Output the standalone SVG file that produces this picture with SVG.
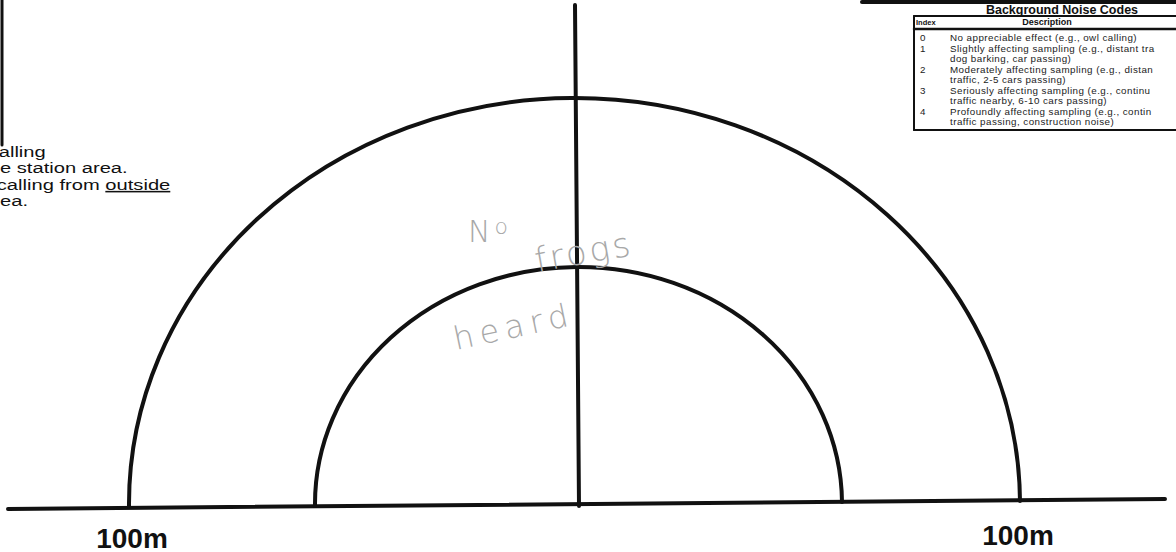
<svg xmlns="http://www.w3.org/2000/svg" width="1176" height="552" viewBox="0 0 1176 552">
<style>
.ln{stroke:#111;fill:none;stroke-linecap:round}
.lab{font-family:"Liberation Sans",Arial,sans-serif;fill:#111}
.tb{font-family:"Liberation Sans",Arial,sans-serif;font-size:9.8px;letter-spacing:0.45px;fill:#222}
.hw{font-family:"DejaVu Sans",sans-serif;fill:#a8a8a8;font-weight:200}
</style>
<rect width="1176" height="552" fill="#fff"/>
<g id="left-note">
<line class="ln" x1="2" y1="0" x2="2" y2="145" stroke-width="3"/>
<g transform="scale(1.3,1)">
<text class="lab" font-size="15.5" x="-1" y="157">alling</text>
<text class="lab" font-size="15.5" x="0" y="173.5">e station area.</text>
<text class="lab" font-size="15.5" x="-2.5" y="190">calling from <tspan text-decoration="underline">outside</tspan></text>
<text class="lab" font-size="15.5" x="0" y="206.5">ea.</text>
</g>
</g>
<g id="noise-table">
<line class="ln" x1="862" y1="2" x2="1176" y2="2" stroke-width="4"/>
<text class="lab" font-size="12.5" font-weight="bold" x="1062" y="14" text-anchor="middle">Background Noise Codes</text>
<line class="ln" x1="914" y1="16" x2="1176" y2="16" stroke-width="2"/>
<line class="ln" x1="914" y1="16" x2="914" y2="130" stroke-width="2"/>
<line class="ln" x1="914" y1="29" x2="1176" y2="29" stroke-width="2.5"/>
<line class="ln" x1="914" y1="130" x2="1176" y2="130" stroke-width="2"/>
<text class="lab" font-size="7.5" font-weight="bold" x="916" y="25">Index</text>
<text class="lab" font-size="9" font-weight="bold" x="1047" y="25" text-anchor="middle">Description</text>
<text class="tb" x="920" y="41">0</text><text class="tb" x="950" y="41">No appreciable effect (e.g., owl calling)</text>
<text class="tb" x="920" y="52">1</text><text class="tb" x="950" y="52">Slightly affecting sampling (e.g., distant tra</text>
<text class="tb" x="950" y="62">dog barking, car passing)</text>
<text class="tb" x="920" y="73">2</text><text class="tb" x="950" y="73">Moderately affecting sampling (e.g., distan</text>
<text class="tb" x="950" y="83">traffic, 2-5 cars passing)</text>
<text class="tb" x="920" y="94">3</text><text class="tb" x="950" y="94">Seriously affecting sampling (e.g., continu</text>
<text class="tb" x="950" y="104">traffic nearby, 6-10 cars passing)</text>
<text class="tb" x="920" y="115">4</text><text class="tb" x="950" y="115">Profoundly affecting sampling (e.g., contin</text>
<text class="tb" x="950" y="125">traffic passing, construction noise)</text>
</g>
<g id="connectors">
<line class="ln" x1="8" y1="509" x2="1165" y2="499" stroke-width="4"/>
<line class="ln" x1="575" y1="5" x2="579" y2="506" stroke-width="4"/>
</g>
<g id="outer-arc">
<path class="ln" d="M129,507 A445.5 406 0 0 1 1020,501" stroke-width="4"/>
</g>
<g id="inner-arc">
<path class="ln" d="M315,506 A263.5 237 0 0 1 842,502" stroke-width="4"/>
</g>
<g id="handwriting">
<text class="hw" font-size="30" x="468" y="242">N<tspan font-size="22" dy="-8" dx="4">o</tspan></text>
<text class="hw" font-size="34" x="537" y="272" letter-spacing="3" transform="rotate(-10 537 272)">frogs</text>
<text class="hw" font-size="32" x="456" y="350" letter-spacing="6" transform="rotate(-12 456 350)">heard</text>
</g>
<g id="scale-labels">
<text class="lab" font-size="28" font-weight="bold" x="132" y="548" text-anchor="middle">100m</text>
<text class="lab" font-size="28" font-weight="bold" x="1018" y="545" text-anchor="middle">100m</text>
</g>
</svg>
